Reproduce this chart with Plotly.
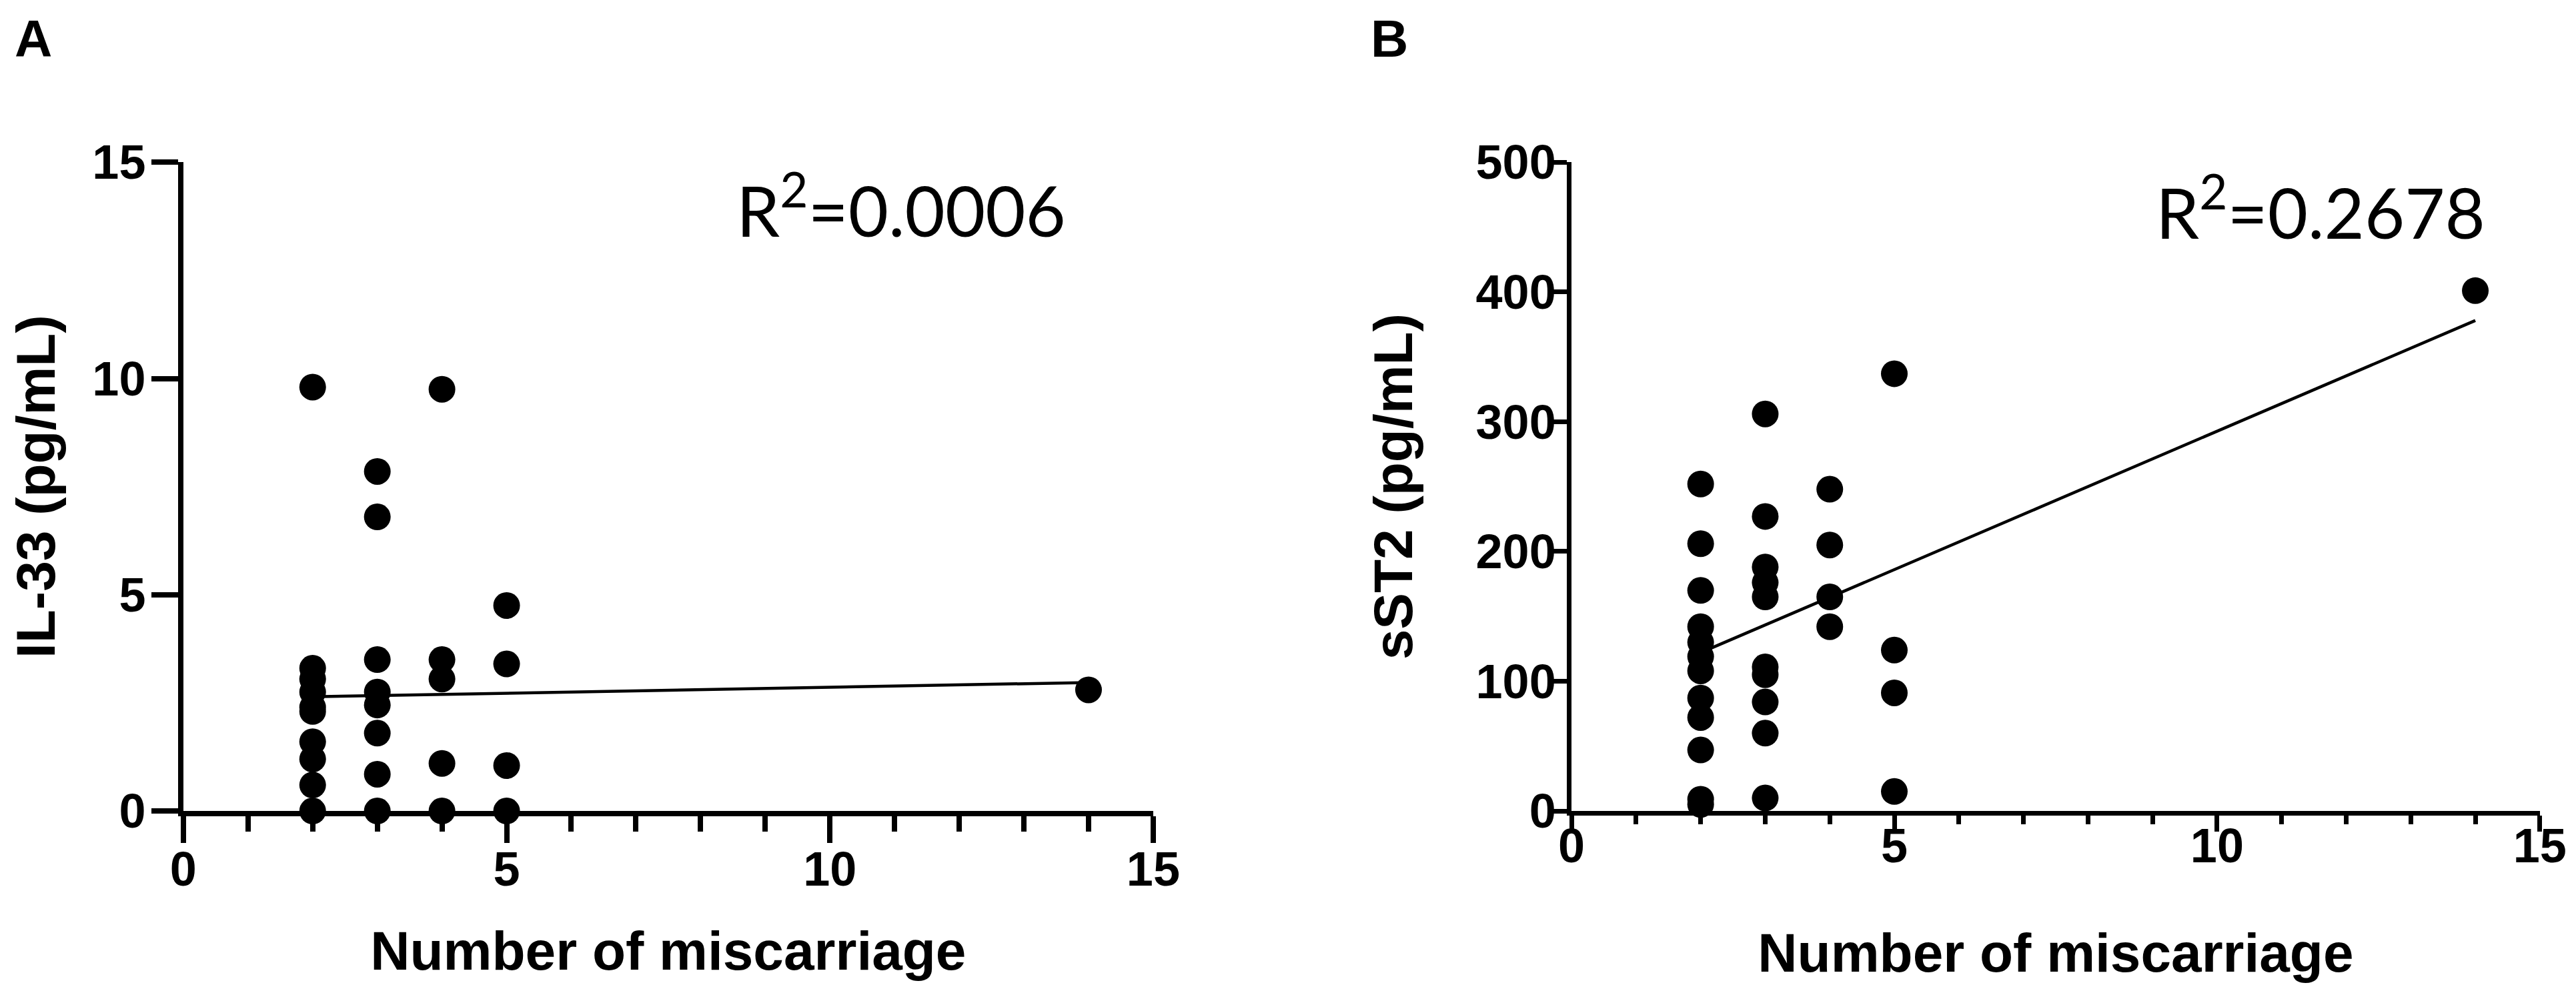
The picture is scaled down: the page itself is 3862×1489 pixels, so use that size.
import plotly.graph_objects as go

# ---------------- data ----------------
# Panel A: IL-33 vs number of miscarriages
a_x = [2]*10 + [3]*8 + [4]*5 + [5]*4 + [14]
a_y = [9.8, 3.3, 3.05, 2.75, 2.4, 2.3, 1.6, 1.2, 0.6, 0.0,
       7.85, 6.8, 3.5, 2.75, 2.45, 1.8, 0.85, 0.0,
       9.75, 3.5, 3.05, 1.1, 0.0,
       4.75, 3.4, 1.05, 0.0,
       2.8]
a_fit_x = [2, 14]
a_fit_y = [2.64, 2.97]
a_r2 = "R<sup>2</sup>=0.0006"

# Panel B: sST2 vs number of miscarriages
b_x = [2]*12 + [3]*10 + [4]*4 + [5]*4 + [14]
b_y = [252, 206, 170, 142, 130, 119, 108, 87, 72, 47, 9, 5,
       306, 227, 188, 176, 165, 111, 105, 84, 60, 10,
       248, 205, 165, 142,
       337, 124, 91, 15,
       401]
b_fit_x = [2, 14]
b_fit_y = [122, 378]
b_r2 = "R<sup>2</sup>=0.2678"

x_title = "Number of miscarriage"
a_y_title = "IL-33 (pg/mL)"
b_y_title = "sST2 (pg/mL)"

# ---------------- figure ----------------
FONT = "Arial, 'Liberation Sans', sans-serif"
W, H = 3862, 1489

fig = go.Figure()

mk = dict(color="black", size=40, line=dict(width=0))
fig.add_trace(go.Scatter(x=a_x, y=a_y, mode="markers", marker=mk,
                         cliponaxis=False, xaxis="x", yaxis="y", showlegend=False))
fig.add_trace(go.Scatter(x=a_fit_x, y=a_fit_y, mode="lines",
                         line=dict(color="black", width=4.5),
                         cliponaxis=False, xaxis="x", yaxis="y", showlegend=False))
fig.add_trace(go.Scatter(x=b_x, y=b_y, mode="markers", marker=mk,
                         cliponaxis=False, xaxis="x2", yaxis="y2", showlegend=False))
fig.add_trace(go.Scatter(x=b_fit_x, y=b_fit_y, mode="lines",
                         line=dict(color="black", width=4.5),
                         cliponaxis=False, xaxis="x2", yaxis="y2", showlegend=False))

tickfont = dict(family=FONT, size=72, color="black", weight="bold")
titlefont = dict(family=FONT, size=82, color="black", weight="bold")


def xaxis(domain, anchor, ticklen, minorlen, lw, standoff, lblstandoff):
    return dict(domain=domain, anchor=anchor, range=[0, 15], tickvals=[0, 5, 10, 15],
                automargin=False, ticklabelstandoff=lblstandoff,
                showline=True, linecolor="black", linewidth=lw, showgrid=False,
                zeroline=False, ticks="outside", ticklen=ticklen, tickwidth=lw,
                tickcolor="black", tickfont=tickfont,
                minor=dict(dtick=1, tick0=0, ticks="outside", ticklen=minorlen,
                           tickwidth=lw, tickcolor="black", showgrid=False),
                title=dict(text=x_title, font=titlefont, standoff=standoff))


def yaxis(domain, anchor, rng, dtick, ticklen, lw, title, standoff, lblstandoff):
    return dict(domain=domain, anchor=anchor, range=rng, dtick=dtick, tick0=0,
                automargin=False, ticklabelstandoff=lblstandoff,
                showline=True, linecolor="black", linewidth=lw, showgrid=False,
                zeroline=False, ticks="outside", ticklen=ticklen, tickwidth=lw,
                tickcolor="black", tickfont=tickfont,
                title=dict(text=title, font=titlefont, standoff=standoff))


ydom = [0.1887, 0.8420]
fig.update_layout(
    template="none",
    width=W, height=H, autosize=False,
    margin=dict(l=0, r=0, t=0, b=0, pad=0, autoexpand=False),
    paper_bgcolor="white", plot_bgcolor="white",
    xaxis=xaxis([0.0691, 0.4456], "y", 40, 23, 8, 57, -22),
    yaxis=yaxis(ydom, "x", [0, 15], 5, 40, 8, a_y_title, 35, -6),
    xaxis2=xaxis([0.6080, 0.9839], "y2", 24, 13, 7, 95, -40),
    yaxis2=yaxis(ydom, "x2", [0, 500], 100, 22, 7, b_y_title, 70, -20),
    font=dict(family=FONT, color="black"),
)

r2font = dict(family="Lato, 'Open Sans', sans-serif", size=104, color="black")
fig.add_annotation(x=11.1, y=14.0, xref="x", yref="y", text=a_r2, showarrow=False,
                   font=r2font, xanchor="center", yanchor="middle")
fig.add_annotation(x=11.6, y=465, xref="x2", yref="y2", text=b_r2, showarrow=False,
                   font=r2font, xanchor="center", yanchor="middle")

letterfont = dict(family=FONT, size=78, color="black", weight="bold")
fig.add_annotation(x=42 / W, y=1 - 50 / H, xref="paper", yref="paper", text="A",
                   showarrow=False, font=letterfont, xanchor="center", yanchor="middle")
fig.add_annotation(x=2075 / W, y=1 - 50 / H, xref="paper", yref="paper", text="B",
                   showarrow=False, font=letterfont, xanchor="center", yanchor="middle")

fig.write_html("out.html")
